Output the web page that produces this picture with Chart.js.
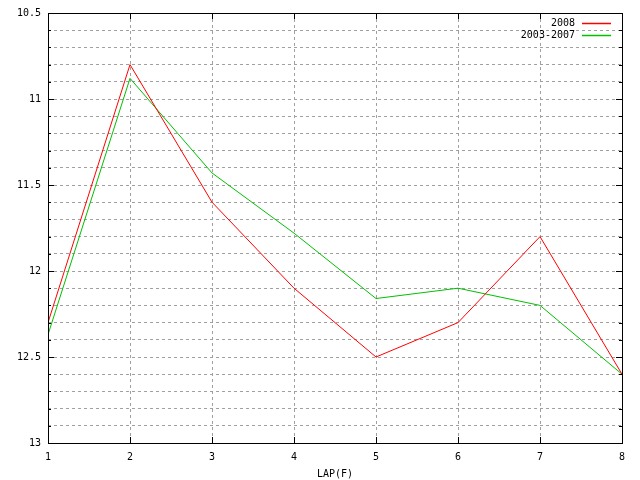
<!DOCTYPE html>
<html>
<head>
<meta charset="utf-8">
<script src="https://cdn.jsdelivr.net/npm/chart.js@4/dist/chart.umd.min.js"></script>
<style>
  html, body { margin: 0; padding: 0; background: #fff; }
  #wrap { width: 640px; height: 480px; }
</style>
</head>
<body>
<div id="wrap"><canvas id="lapChart" width="640" height="480"></canvas></div>
<script>
const laps = [1, 2, 3, 4, 5, 6, 7, 8];
const times2008 = [12.3, 10.8, 11.6, 12.1, 12.5, 12.3, 11.8, 12.6];
const times0307 = [12.37, 10.88, 11.43, 11.78, 12.16, 12.1, 12.2, 12.6];
const seriesLabels = ["2008", "2003-2007"];
const seriesColors = ["#ff0000", "#00c000"];
const yMin = 10.5, yMax = 13;
const xTitle = "LAP(F)";

const FONT = "DejaVu Sans Mono";

const toPoints = (ys) => laps.map((x, i) => ({ x, y: ys[i] }));
const isMajor = (v) => Math.abs(v * 2 - Math.round(v * 2)) < 1e-6;

// gnuplot-like frame: full box with inward tick marks on all sides
const framePlugin = {
  id: "frame",
  afterDraw(chart) {
    const { ctx, chartArea: a, scales } = chart;
    ctx.save();
    ctx.strokeStyle = "#000";
    ctx.lineWidth = 1;
    ctx.setLineDash([]);
    ctx.beginPath();
    scales.y.ticks.forEach(t => {
      const y = Math.round(scales.y.getPixelForValue(t.value)) + 0.5;
      const len = isMajor(t.value) ? 6 : 3;
      ctx.moveTo(a.left, y); ctx.lineTo(a.left + len, y);
      ctx.moveTo(a.right, y); ctx.lineTo(a.right - len, y);
    });
    scales.x.ticks.forEach(t => {
      const x = Math.round(scales.x.getPixelForValue(t.value)) + 0.5;
      ctx.moveTo(x, a.bottom); ctx.lineTo(x, a.bottom - 6);
      ctx.moveTo(x, a.top); ctx.lineTo(x, a.top + 6);
    });
    ctx.stroke();
    ctx.strokeRect(Math.round(a.left) + 0.5, Math.round(a.top) + 0.5,
      Math.round(a.right - a.left), Math.round(a.bottom - a.top));

    // key, top right: label then line sample
    ctx.font = "10px '" + FONT + "'";
    ctx.textAlign = "right";
    ctx.textBaseline = "middle";
    seriesLabels.forEach((label, i) => {
      const y = Math.round(a.top + 10 + i * 12);
      ctx.fillStyle = "#000";
      ctx.fillText(label, a.right - 47, y);
      ctx.strokeStyle = seriesColors[i];
      ctx.lineWidth = 1.5;
      ctx.beginPath();
      ctx.moveTo(a.right - 40, y + 0.5);
      ctx.lineTo(a.right - 11, y + 0.5);
      ctx.stroke();
    });
    ctx.restore();
  }
};

new Chart(document.getElementById("lapChart"), {
  type: "line",
  data: {
    datasets: [{
      label: seriesLabels[0],
      data: toPoints(times2008),
      borderColor: seriesColors[0],
      borderWidth: 1,
      pointRadius: 0,
      tension: 0,
    }, {
      label: seriesLabels[1],
      data: toPoints(times0307),
      borderColor: seriesColors[1],
      borderWidth: 1,
      pointRadius: 0,
      tension: 0,
    }],
  },
  options: {
    responsive: false,
    animation: false,
    layout: { padding: { top: 11, right: 18, left: 0, bottom: 0 } },
    plugins: {
      legend: { display: false },
      tooltip: { enabled: false },
    },
    scales: {
      x: {
        type: "linear",
        min: 1,
        max: 8,
        ticks: {
          stepSize: 1,
          padding: 8,
          color: "#000",
          font: { family: FONT, size: 10 },
        },
        grid: {
          color: (c) => (c.tick && (c.tick.value === 1 || c.tick.value === 8)) ? "rgba(0,0,0,0)" : "#a0a0a0",
          drawTicks: false,
        },
        border: { display: false, dash: [3, 3] },
        title: {
          display: true,
          text: xTitle,
          color: "#000",
          padding: 0,
          font: { family: FONT, size: 10 },
        },
        afterFit(scale) { scale.height = 37; },
      },
      y: {
        reverse: true,
        min: yMin,
        max: yMax,
        ticks: {
          stepSize: 0.1,
          autoSkip: false,
          padding: 7,
          color: "#000",
          font: { family: FONT, size: 10 },
          callback: (v) => isMajor(v) ? String(Math.round(v * 2) / 2) : "",
        },
        grid: {
          color: (c) => (c.tick && (Math.abs(c.tick.value - yMin) < 1e-6 || Math.abs(c.tick.value - yMax) < 1e-6)) ? "rgba(0,0,0,0)" : "#a0a0a0",
          drawTicks: false,
        },
        border: { display: false, dash: [3, 3] },
        afterFit(scale) { scale.width = 48; },
      },
    },
  },
  plugins: [framePlugin],
});
</script>
</body>
</html>
